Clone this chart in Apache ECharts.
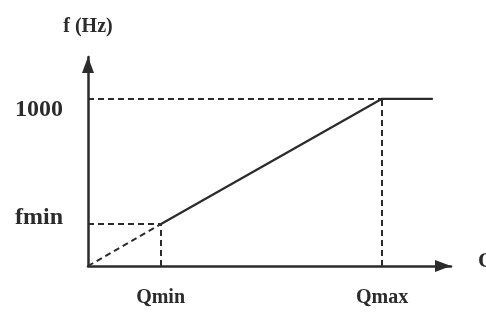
<!DOCTYPE html>
<html>
<head>
<meta charset="utf-8">
<script src="https://cdn.jsdelivr.net/npm/echarts@6/dist/echarts.min.js"></script>
<style>
  html, body { margin: 0; padding: 0; background: #fff; }
  #chart { width: 486px; height: 313px; }
</style>
</head>
<body>
<div id="chart"></div>
<script>
// key points of the curve (Q, f)
const qMin = 20;
const qMax = 81;
const qEnd = 95;
const fMin = 250;
const fTop = 1000;

const xTicks = [qMin, qMax];
const xTickNames = ["Qmin", "Qmax"];
const yTicks = [fMin, fTop];
const yTickNames = ["fmin", "1000"];

const rampLine = [[qMin, fMin], [qMax, fTop], [qEnd, fTop]];
const startLine = [[0, 0], [qMin, fMin]];

const ink = "#2b2b2b";
const font = "Liberation Serif";

const chart = echarts.init(document.querySelector("#chart"));

chart.setOption({
  animation: false,
  backgroundColor: "#fff",
  grid: { left: 88, right: 35, top: 57, bottom: 47, outerBoundsMode: "none", containLabel: false },
  xAxis: {
    type: "value",
    min: 0,
    max: 100,
    name: "Q",
    nameGap: 27,
    nameTextStyle: { color: ink, fontFamily: font, fontWeight: "bold", fontSize: 22, verticalAlign: "bottom", padding: [0, 0, -6, 0] },
    axisLine: { lineStyle: { color: ink, width: 2.5 }, symbol: ["none", "triangle"], symbolSize: [12, 16], symbolOffset: [0, -8] },
    axisTick: { show: false },
    splitLine: { show: false },
    axisLabel: {
      customValues: xTicks,
      margin: 22,
      color: ink,
      fontFamily: font,
      fontWeight: "bold",
      fontSize: 20,
      formatter: (v) => xTickNames[xTicks.indexOf(v)],
    },
  },
  yAxis: {
    type: "value",
    min: 0,
    max: 1250,
    name: "f (Hz)",
    nameGap: 20,
    nameTextStyle: { color: ink, fontFamily: font, fontWeight: "bold", fontSize: 20 },
    axisLine: { lineStyle: { color: ink, width: 2.5 }, symbol: ["none", "triangle"], symbolSize: [12, 16], symbolOffset: [0, -8] },
    axisTick: { show: false },
    splitLine: { show: false },
    axisLabel: {
      customValues: yTicks,
      margin: 25,
      color: ink,
      fontFamily: font,
      fontWeight: "bold",
      fontSize: 24,
      formatter: (v) => (v === fTop ? "{lo|" : "{hi|") + yTickNames[yTicks.indexOf(v)] + "}",
      rich: {
        lo: { fontFamily: font, fontWeight: "bold", fontSize: 24, color: ink, padding: [22, 0, 0, 0] },
        hi: { fontFamily: font, fontWeight: "bold", fontSize: 24, color: ink, padding: [0, 0, 12, 0] },
      },
    },
  },
  series: [
    {
      type: "line",
      data: rampLine,
      symbol: "none",
      lineStyle: { color: ink, width: 2.2 },
      markLine: {
        silent: true,
        symbol: "none",
        label: { show: false },
        lineStyle: { color: ink, width: 2, type: [6, 4] },
        data: [
          [{ coord: [0, fMin] }, { coord: [qMin, fMin] }],
          [{ coord: [qMin, 0] }, { coord: [qMin, fMin] }],
          [{ coord: [0, fTop] }, { coord: [qMax, fTop] }],
          [{ coord: [qMax, 0] }, { coord: [qMax, fTop] }],
        ],
      },
    },
    {
      type: "line",
      data: startLine,
      symbol: "none",
      lineStyle: { color: ink, width: 2, type: [6, 4] },
    },
  ],
});
</script>
</body>
</html>
